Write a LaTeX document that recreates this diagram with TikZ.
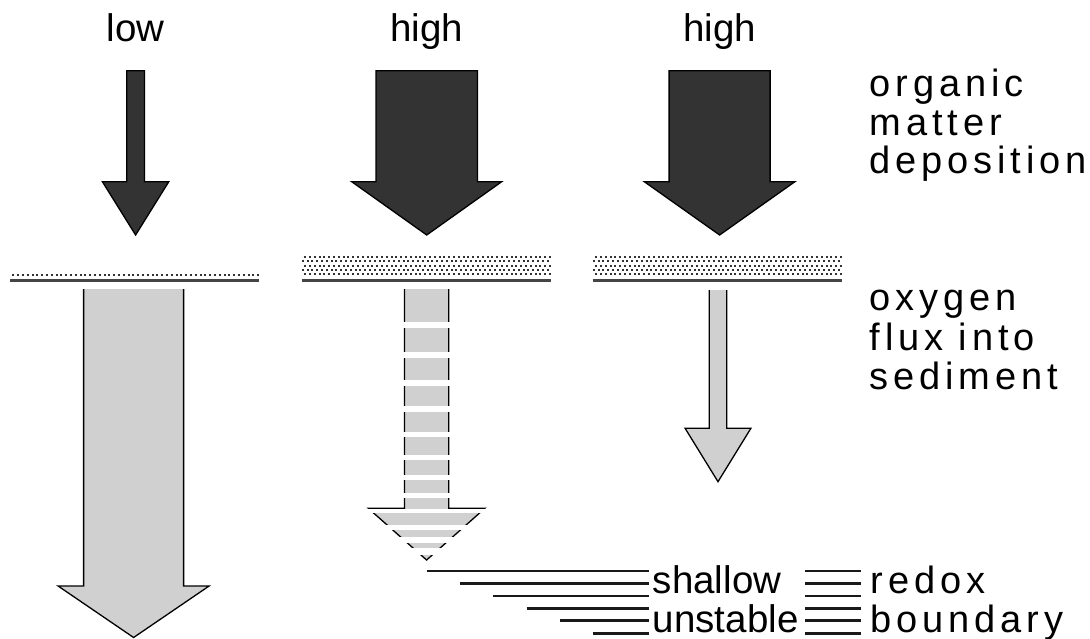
\documentclass[tikz,border=0pt]{standalone}
\usepackage{fontspec}
\setmainfont{Liberation Sans}
\definecolor{darkfill}{HTML}{333333}
\definecolor{lightfill}{HTML}{D0D0D0}
\definecolor{dotc}{HTML}{333333}
\definecolor{barline}{HTML}{444444}
% closed block arrow pointing down: [style] cx, top, shaft half width, shoulder y, head half width, tip y
\newcommand\blockarrow[7][]{%
  \path[#1] ({#2-#4},#3) -- ({#2-#4},#5) -- ({#2-#6},#5) -- (#2,#7) -- ({#2+#6},#5)
    -- ({#2+#4},#5) -- ({#2+#4},#3) -- cycle;}
% light block arrow with an open top edge
\newcommand\openarrow[6]{%
  \fill[lightfill] ({#1-#3},#2) -- ({#1-#3},#4) -- ({#1-#5},#4) -- (#1,#6) -- ({#1+#5},#4)
    -- ({#1+#3},#4) -- ({#1+#3},#2) -- cycle;
  \draw[outline] ({#1-#3},#2) -- ({#1-#3},#4) -- ({#1-#5},#4) -- (#1,#6) -- ({#1+#5},#4)
    -- ({#1+#3},#4) -- ({#1+#3},#2);}
% stippled sediment surface: x from, x to, number of dot rows, top row y
\newcommand\sedbar[4]{%
  \foreach \r in {1,...,#3} {
    \pgfmathsetmacro\yy{#4+4.3*(\r-1)}
    \pgfmathsetmacro\off{mod(\r,2)*2.4}
    \pgfmathsetmacro\xs{#1+1+\off}
    \pgfmathsetmacro\xn{\xs+4.8}
    \foreach \x in {\xs,\xn,...,#2} {
      \fill[dotc] (\x-1,\yy-1) rectangle (\x+1,\yy+1);
    }
  }
  \draw[barline, line width=2.8pt] (#1,280.7) -- (#2,280.7);}
\tikzset{
  outline/.style={draw=black, line width=1.3pt, line join=miter},
  darkarrow/.style={fill=darkfill, outline},
  lbl/.style={inner sep=0pt, anchor=base, font=\fontsize{38.5}{40}\selectfont},
  lbll/.style={lbl, anchor=base west},
  spaced/.style={inner sep=0pt, anchor=base west,
    font=\fontsize{38}{40}\selectfont\addfontfeatures{LetterSpace=12.8}},
  redox/.style={line width=2.7pt, draw=black!90},
}
\begin{document}
\begin{tikzpicture}[x=1pt, y=-1pt]
\useasboundingbox (0,0) rectangle (1090,639);

% flux labels
\node[lbl] (low) at (135.5,41.7) {low};
\node[lbl] (highA) at (426.7,41.7) {high};
\node[lbl] (highB) at (719.5,41.7) {high};

% organic matter deposition arrows
\blockarrow[darkarrow]{135.6}{70.7}{8.8}{181.7}{33.2}{235}
\blockarrow[darkarrow]{426.7}{70.7}{50.7}{181.7}{75}{235}
\blockarrow[darkarrow]{719.6}{70.7}{50.5}{181.7}{75.3}{235}

% sediment surfaces
\sedbar{10}{259}{1}{275}
\sedbar{301.7}{551}{5}{257}
\sedbar{592.7}{842}{5}{257}

% oxygen flux arrows
\openarrow{133.6}{289}{50}{586}{75.5}{637.5}
\openarrow{718}{290}{8.7}{428.3}{32.9}{481.7}
\openarrow{426.6}{289}{22.1}{508.3}{58.3}{560}
\foreach \a/\b in {321.7/328.3, 351.7/358.3, 380/386, 406/411.7, 431.7/436.7,
                   455/460, 475/480, 493.3/498.3, 509.4/513.3, 525/530,
                   536.7/542.5, 548.3/555} {
  \fill[white] (362,\a) rectangle (492,\b);
}

% redox boundary lines
\coordinate (r1) at (426.7,571);
\coordinate (r2) at (460,583.3);
\coordinate (r3) at (493.3,596);
\coordinate (r4) at (526.7,608.3);
\coordinate (r5) at (560,620.7);
\coordinate (r6) at (592.7,633.3);
\foreach \i in {1,...,6} {
  \draw[redox] (r\i) -- (r\i -| 649.3,0);
  \draw[redox] (r\i -| 805,0) -- (r\i -| 861,0);
}

% right-hand captions
\node[spaced] (om1) at (869.5,97) {organic};
\node[spaced] (om2) at (869.5,135.5) {matter};
\node[spaced] (om3) at (869.5,174) {deposition};
\node[spaced] (ox1) at (869.5,310.7) {oxygen};
\node[spaced] (ox2) at (869.5,350) {flux into};
\node[spaced] (ox3) at (869.5,389) {sediment};
\node[lbll] (sh) at (652.7,593) {shallow};
\node[lbll] (un) at (652.7,632.5) {unstable};
\node[spaced] (rb1) at (870.5,593) {redox};
\node[spaced] (rb2) at (870.5,632.5) {boundary};
\end{tikzpicture}
\end{document}
